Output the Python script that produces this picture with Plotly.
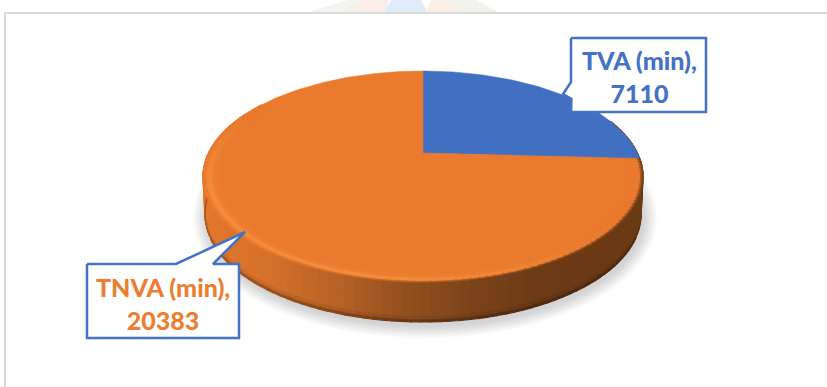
import math
import plotly.graph_objects as go

# Time split, in minutes
labels = ["TVA (min)", "TNVA (min)"]
values = [7110, 20383]
face_colors = ["#4170C2", "#E97A2E"]
text_colors = ["#4472C4", "#ED7D31"]

# Disc geometry in page pixels
CX = 423
TOP_CY, TOP_RX, TOP_RY = 176.5, 220, 105.5
BASE_CY, BASE_RX, BASE_RY = 215, 218, 107
# Perspective terms for a disc tilted away from the viewer
P_A, P_B, P_C, P_K = -66.2, 153.0, 0.2227, 214.5


def rim(theta):
    """Normalised ellipse position of a rim angle (clockwise from the back)."""
    u, v = math.sin(theta), math.cos(theta)
    d = 1 + P_C * v
    x = CX + P_K * u / d
    y = (P_A * v + P_B) / d
    return (x - CX) / TOP_RX, (y - TOP_CY) / TOP_RY


def top_pt(theta, s=1.0):
    ex, ey = rim(theta)
    return CX + TOP_RX * ex * s, TOP_CY + TOP_RY * ey * s


def base_pt(theta):
    ex, ey = rim(theta)
    return CX + BASE_RX * ex, BASE_CY + BASE_RY * ey


def mix(c1, c2, t):
    t = max(0.0, min(1.0, t))
    return tuple(a + (b - a) * t for a, b in zip(c1, c2))


def rgb(c):
    return "rgb(%d,%d,%d)" % tuple(round(v) for v in c)


def ramp(stops, x):
    for (x0, c0), (x1, c1) in zip(stops, stops[1:]):
        if x <= x1:
            return mix(c0, c1, (x - x0) / (x1 - x0))
    return stops[-1][1]


fig = go.Figure()


def poly(xs, ys, fill, line=None, width=0):
    fig.add_trace(go.Scatter(
        x=list(xs) + [xs[0]], y=list(ys) + [ys[0]], mode="lines",
        fill="toself", fillcolor=fill,
        line=dict(color=line or fill, width=width if line else 1.2),
        hoverinfo="skip", showlegend=False,
    ))


# Soft drop shadow under the disc
for i in range(9):
    grow = 14 - i * 1.6
    pts = [2 * math.pi * k / 120 for k in range(120)]
    poly([CX + 2 + (BASE_RX + grow) * math.sin(a) for a in pts],
         [BASE_CY + 3 + (BASE_RY + grow * 0.95) * math.cos(a) for a in pts],
         "rgba(110,110,110,0.03)", line="rgba(0,0,0,0)", width=0)

# Disc wall, shaded from lit on the left to dark on the right
wall_stops = [
    (200, (226, 120, 44)), (270, (212, 112, 42)), (340, (182, 97, 37)),
    (400, (148, 80, 31)), (470, (124, 67, 25)), (540, (108, 58, 21)),
    (650, (106, 58, 20)),
]
layers = [(0.0, 0.86, 1.0), (0.86, 0.95, 0.93), (0.95, 1.0, 0.72)]
n_seg = 110
start, stop = math.radians(70), math.radians(295)
for i in range(n_seg):
    a0 = start + (stop - start) * i / n_seg
    a1 = start + (stop - start) * (i + 1) / n_seg
    t0, t1, b0, b1 = top_pt(a0), top_pt(a1), base_pt(a0), base_pt(a1)
    col = ramp(wall_stops, (t0[0] + t1[0]) / 2)
    for f0, f1, k in layers:
        lerp = lambda p, q, f: (p[0] + (q[0] - p[0]) * f, p[1] + (q[1] - p[1]) * f)
        quad = [lerp(t0, b0, f0), lerp(t1, b1, f0), lerp(t1, b1, f1), lerp(t0, b0, f1)]
        poly([p[0] for p in quad], [p[1] for p in quad],
             rgb(tuple(c * k for c in col)))

# Top face: one wedge per value, clockwise from twelve o'clock
total = sum(values)
apex = (CX, P_B)
angle = 0.0
for value, color in zip(values, face_colors):
    sweep = 2 * math.pi * value / total
    steps = max(12, int(sweep * 60))
    arc = [top_pt(angle + sweep * k / steps) for k in range(steps + 1)]
    fig.add_trace(go.Scatter(
        x=[apex[0]] + [p[0] for p in arc] + [apex[0]],
        y=[apex[1]] + [p[1] for p in arc] + [apex[1]],
        mode="lines", fill="toself", fillcolor=color,
        line=dict(color=color, width=0.5),
        hoverinfo="skip", showlegend=False,
    ))
    angle += sweep

# Bevelled rim on the near edge of the larger wedge
base_col = (233, 122, 46)
glow_col = (246, 143, 62)
rim_bands = [
    (1.000, 0.992, "edge", 1.0), (0.992, 0.984, "edge", 0.55),
    (0.984, 0.972, "glow", 0.7), (0.972, 0.958, "glow", 0.95),
    (0.958, 0.945, "glow", 0.5), (0.945, 0.930, "glow", 0.2),
]
first = 2 * math.pi * values[0] / total
n_rim = 120
for i in range(n_rim):
    a0 = first + (2 * math.pi * 0.84 - first) * i / n_rim
    a1 = first + (2 * math.pi * 0.84 - first) * (i + 1) / n_rim
    mid = (a0 + a1) / 2
    x_mid = top_pt(mid)[0]
    # Highlight fades out towards both ends of the arc
    fade = min(1.0, max(0.0, (mid - math.radians(130)) / math.radians(55)),
               max(0.0, (math.radians(295) - mid) / math.radians(45)))
    # The outer edge gets darker towards the right side
    edge = mix((233, 122, 46), (120, 64, 24), (x_mid - 250) / 300)
    for s0, s1, kind, k in rim_bands:
        if kind == "edge":
            col = mix(base_col, edge, k)
        else:
            col = mix(base_col, glow_col, k * fade)
        p0, p1, p2, p3 = top_pt(a0, s0), top_pt(a1, s0), top_pt(a1, s1), top_pt(a0, s1)
        poly([p0[0], p1[0], p2[0], p3[0]], [p0[1], p1[1], p2[1], p3[1]], rgb(col))

# Callout boxes with their pointers
callouts = [
    dict(box=(571, 38, 706, 112), ptr=[(571, 82), (563, 94), (571.5, 99)],
         side="left", text=(639, 76)),
    dict(box=(87, 264, 239, 338), ptr=[(213, 264), (245, 232), (176, 264)],
         side="top", text=(163, 303)),
]
for call, label, value, tcol in zip(callouts, labels, values, text_colors):
    x0, y0, x1, y1 = call["box"]
    if call["side"] == "left":
        outline = [(x0, y0), (x1, y0), (x1, y1), (x0, y1)] + call["ptr"][::-1]
    else:
        outline = [(x0, y0)] + call["ptr"][::-1] + [(x1, y0), (x1, y1), (x0, y1)]
    poly([p[0] for p in outline], [p[1] for p in outline], "white",
         line="#4472C4", width=2.5)
    fig.add_annotation(
        x=call["text"][0], y=call["text"][1], text=f"{label},<br>{value}",
        showarrow=False, align="center",
        font=dict(family="Lato", size=25, color=tcol, weight=900),
    )

# Faint crest showing above the chart frame
crest = [
    ([310, 350, 362, 345], "#F1F5EF"), ([345, 362, 388, 385], "#FBEEE9"),
    ([385, 392, 420, 427], "#E1ECFA"), ([427, 432, 452, 462], "#FAEFE6"),
    ([462, 452, 475, 497], "#F0F4ED"),
]
for xs, col in crest:
    poly([xs[0], xs[1], xs[2], xs[3]], [12, 0, 0, 12], col)

fig.update_layout(
    width=827, height=387,
    margin=dict(l=0, r=0, t=0, b=0),
    paper_bgcolor="white", plot_bgcolor="white",
    xaxis=dict(range=[0, 827], visible=False, fixedrange=True),
    yaxis=dict(range=[387, 0], visible=False, fixedrange=True),
    shapes=[
        dict(type="line", xref="x", yref="y", x0=4, x1=827, y0=13, y1=13,
             line=dict(color="#D9D9D9", width=2)),
        dict(type="line", xref="x", yref="y", x0=5, x1=5, y0=12, y1=387,
             line=dict(color="#D9D9D9", width=2)),
    ],
)
fig.write_html("out.html", config=dict(displayModeBar=False))
